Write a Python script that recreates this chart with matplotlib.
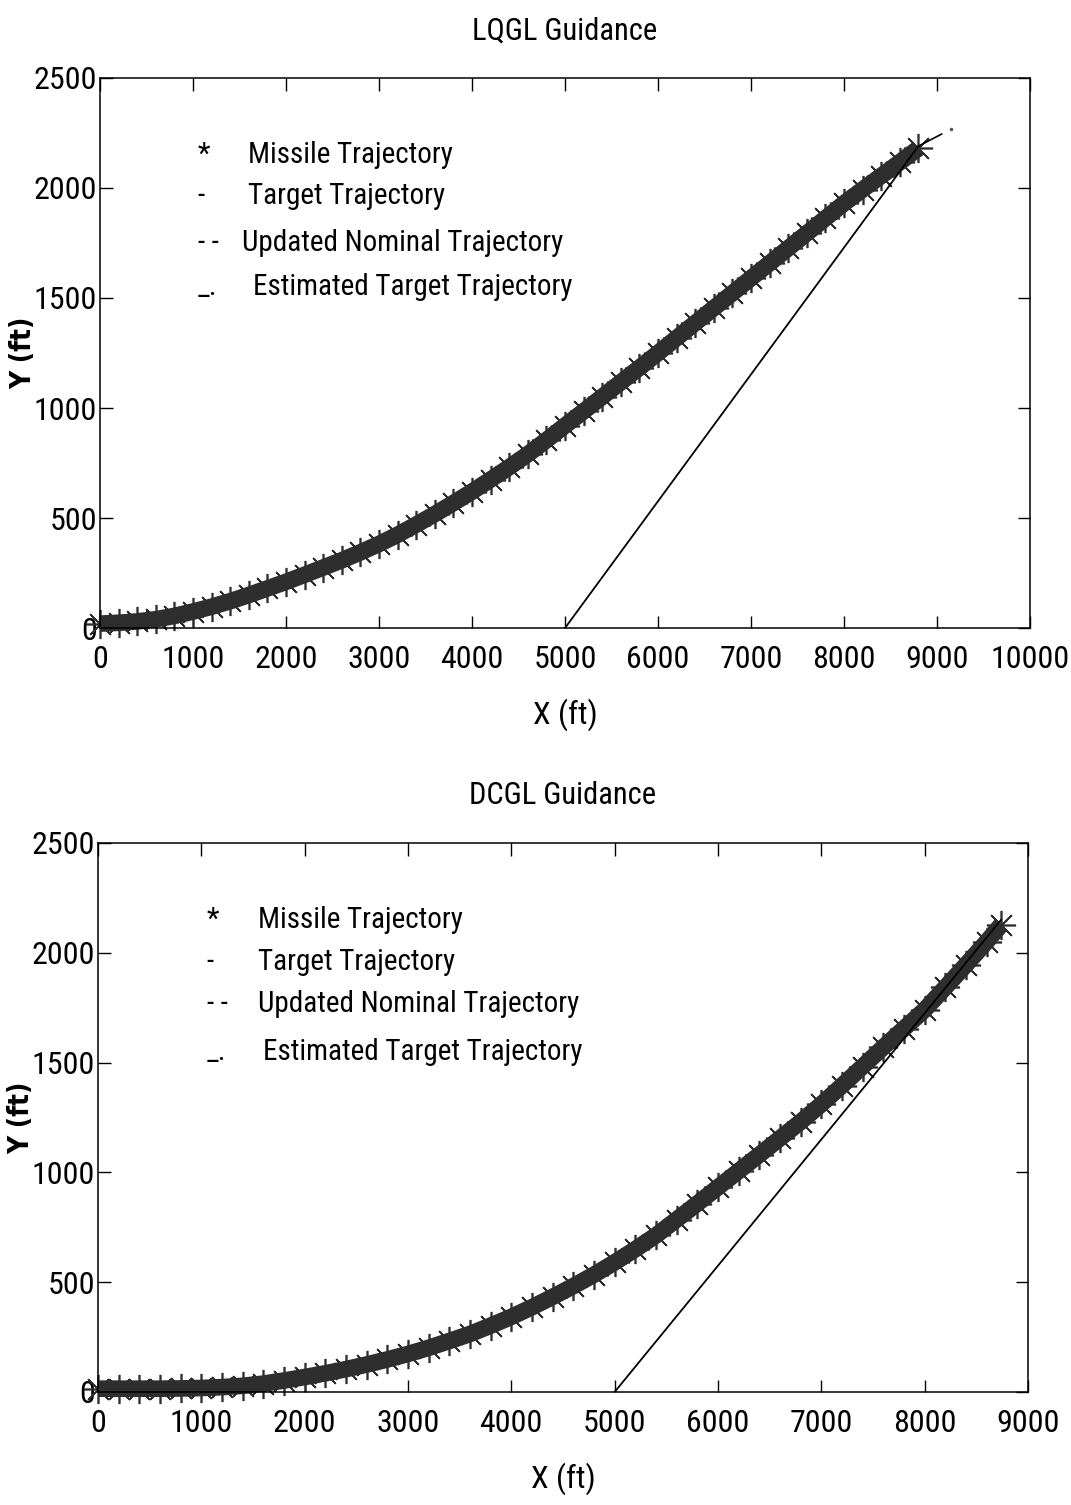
import numpy as np
import matplotlib.pyplot as plt
from matplotlib import font_manager

# look for a narrow sans face (the original uses a condensed Helvetica)
prefs = ['LiberationSansNarrow-Regular', 'RobotoCondensed-Regular',
         'NotoSans-CondensedRegular', 'NotoSans-Condensed.', 'DejaVuSansCondensed.',
         'OpenSans-CondensedRegular', 'OpenSans_Condensed-Regular']
narrow = None
for p in prefs:
    for f in font_manager.fontManager.ttflist:
        if p in f.fname:
            narrow = f
            break
    if narrow:
        break
if narrow is None:
    for f in font_manager.fontManager.ttflist:
        if ('Condensed' in f.fname or 'Narrow' in f.fname) and 'Bold' not in f.fname \
                and 'Italic' not in f.fname and 'Mono' not in f.fname and 'Serif' not in f.fname:
            narrow = f
            break

if narrow is not None:
    plt.rcParams['font.family'] = [narrow.name, 'DejaVu Sans']
    plt.rcParams['font.stretch'] = narrow.stretch
else:
    plt.rcParams['font.family'] = ['Liberation Sans', 'DejaVu Sans']

# LQGL guidance, missile trajectory (ft)
lq_x = [0, 200, 400, 600, 800, 1000, 1200, 1400, 1600, 1800, 2000, 2200, 2400,
        2600, 2800, 3000, 3200, 3400, 3600, 3800, 4000, 4200, 4400, 4600, 4800,
        5000, 5200, 5400, 5600, 5800, 6000, 6200, 6400, 6600, 6800, 7000, 7200,
        7400, 7600, 7800, 8000, 8200, 8400, 8600, 8800]
lq_y = [20, 24, 30, 40, 55, 75, 97, 122, 150, 180, 210, 242, 275,
        308, 344, 382, 424, 470, 518, 568, 620, 675, 731, 790, 854,
        920, 985, 1051, 1117, 1183, 1250, 1318, 1386, 1454, 1522, 1590, 1658,
        1726, 1794, 1862, 1930, 1993, 2055, 2117, 2180]

# DCGL guidance, missile trajectory
dc_x = [0, 200, 400, 600, 800, 1000, 1200, 1400, 1600, 1800, 2000, 2200, 2400,
        2600, 2800, 3000, 3200, 3400, 3600, 3800, 4000, 4200, 4400, 4600, 4800,
        5000, 5200, 5400, 5600, 5800, 6000, 6200, 6400, 6600, 6800, 7000, 7200,
        7400, 7600, 7800, 8000, 8200, 8400, 8600, 8740]
dc_y = [15, 15, 15, 15, 16, 18, 22, 28, 38, 52, 68, 85, 104,
        125, 148, 173, 201, 232, 264, 302, 342, 386, 433, 482, 534,
        590, 650, 713, 785, 858, 932, 1006, 1080, 1155, 1230, 1310, 1395,
        1482, 1570, 1655, 1740, 1842, 1945, 2050, 2127]

# target trajectories (straight lines)
lq_tx = [5000, 8800]
lq_ty = [0, 2190]
lq_ex = [8800, 9050]          # short estimated segment past the missile end
lq_ey = [2190, 2245]
lq_dot = (9150, 2268)
dc_tx = [5000, 8740]
dc_ty = [0, 2150]

legend_labels = ['Missile Trajectory', 'Target Trajectory',
                 'Updated Nominal Trajectory', 'Estimated Target Trajectory']
legend_syms = ['*', '-', '- -', '_.']

ink = '#2e2e2e'

fig = plt.figure(figsize=(10.71, 15.05), dpi=100)
ax1 = fig.add_axes([0.0934, 0.5827, 0.8683, 0.3655])
ax2 = fig.add_axes([0.0915, 0.0751, 0.8683, 0.3648])


def draw(ax, mx, my, tx, ty, xmax, title):
    # band of '*' markers; kept under the tick labels like the original
    ax.plot(mx, my, color=ink, lw=12, solid_capstyle='butt', zorder=2,
            clip_on=False)
    ax.plot(mx, my, ls='none', marker=(8, 2, 0), ms=21, mew=1.2,
            color=ink, zorder=2.1, clip_on=False)
    ax.plot(tx, ty, color='black', lw=1.3, zorder=2.2)
    ax.set_xlim(0, xmax)
    ax.set_ylim(0, 2500)
    ax.set_xticks(np.arange(0, xmax + 1, 1000))
    ax.set_yticks(np.arange(0, 2501, 500))
    ax.tick_params(direction='in', length=9, width=1.0, top=True, right=True,
                   labelsize=23)
    ax.tick_params(axis='x', pad=12)
    ax.tick_params(axis='y', pad=2)
    for s in ax.spines.values():
        s.set_linewidth(1.1)
    ax.set_title(title, fontsize=22, pad=28)
    ax.set_xlabel('X (ft)', fontsize=23, labelpad=18)
    ax.set_ylabel('Y (ft)', fontsize=20, fontweight='bold',
                  family='DejaVu Sans')
    ax.yaxis.set_label_coords(-0.068, 0.5)


draw(ax1, lq_x, lq_y, lq_tx, lq_ty, 10000, 'LQGL Guidance')
ax1.plot(lq_ex, lq_ey, color='black', lw=1.2, zorder=2.2)
ax1.plot([lq_dot[0]], [lq_dot[1]], ls='none', marker='.', ms=3, color='#555')

draw(ax2, dc_x, dc_y, dc_tx, dc_ty, 9000, 'DCGL Guidance')


# text legends, as in the original (no frame)
def text_legend(ax, sym_x, lab_x, ys, lab_dx):
    for sym, lab, y, dx in zip(legend_syms, legend_labels, ys, lab_dx):
        ax.text(sym_x, y, sym, transform=ax.transAxes, fontsize=21,
                va='center', ha='left')
        ax.text(lab_x + dx, y, lab, transform=ax.transAxes, fontsize=21,
                va='center', ha='left')


text_legend(ax1, 0.105, 0.159, [0.86, 0.785, 0.70, 0.62],
            [0, 0, -0.006, 0.005])
text_legend(ax2, 0.117, 0.172, [0.86, 0.783, 0.707, 0.62],
            [0, 0, 0, 0.005])

fig.savefig('out.png', dpi=100)
